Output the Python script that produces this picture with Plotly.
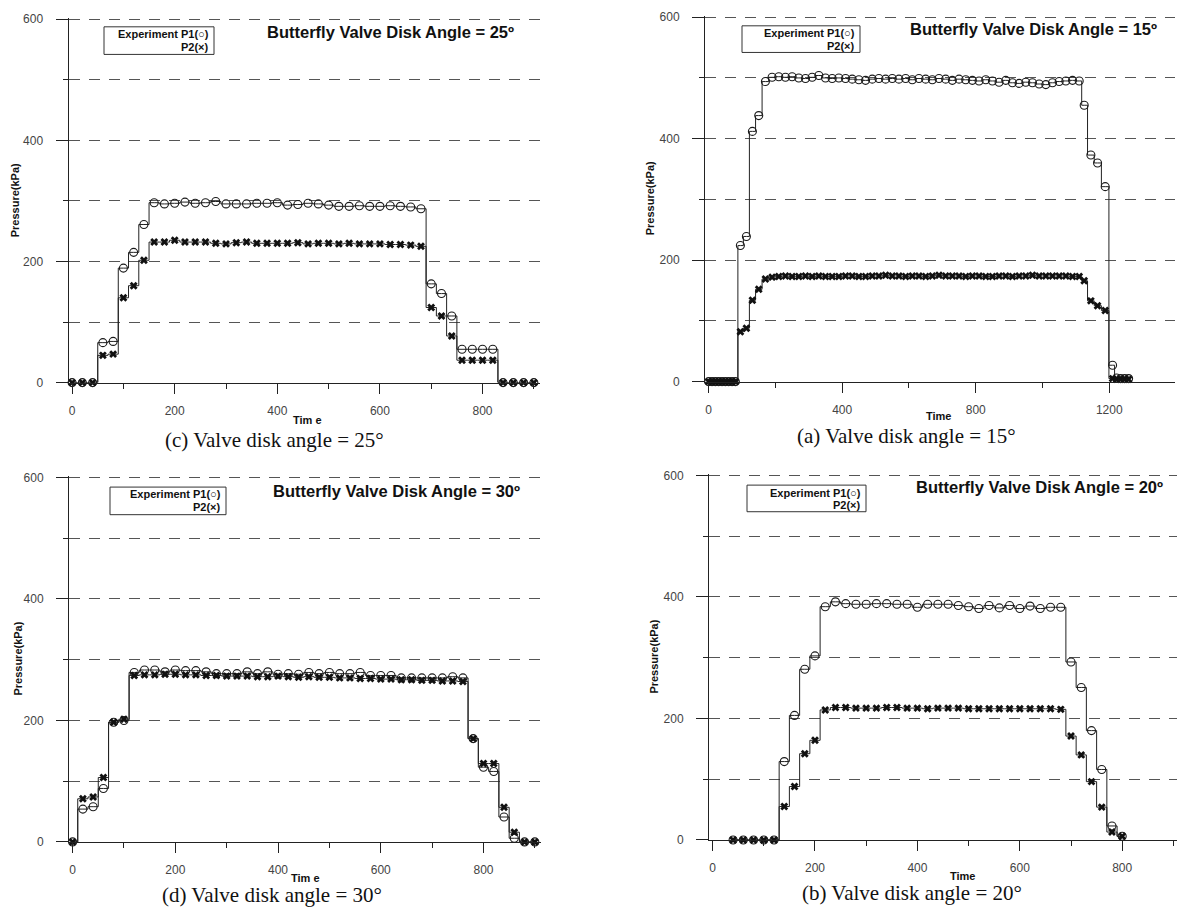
import plotly.graph_objects as go

# The page body has an 8px default margin; the figure is sized so that page = 1185x919.
OFF = 8
W, H = 1185 - 2 * OFF, 919 - 2 * OFF

# ---------------- data ----------------
# (c) Valve disk angle = 25 deg
t_c = [0, 20, 40, 60, 80, 100, 120, 140, 160, 180, 200, 220, 240, 260, 280, 300, 320, 340, 360, 380,
       400, 420, 440, 460, 480, 500, 520, 540, 560, 580, 600, 620, 640, 660, 680, 700, 720, 740, 760,
       780, 800, 820, 840, 860, 880, 900]
p1_c = [0, 0, 0, 66, 68, 189, 215, 261, 297,
        295, 296, 298, 296, 297, 299, 295, 295, 295, 296, 296, 297, 293, 294, 296, 295, 293, 291,
        291, 292, 291, 291, 292, 291, 290, 287,
        163, 147, 110, 55, 55, 55, 55, 0, 0, 0, 0]
p2_c = [0, 0, 0, 45, 47, 140, 160, 202, 232,
        232, 235, 232, 232, 232, 230, 229, 231, 232, 230, 230, 230, 230, 231, 229, 230, 230, 229,
        230, 229, 229, 229, 228, 228, 227, 225,
        124, 110, 77, 37, 37, 37, 37, 0, 0, 0, 0]

# (a) Valve disk angle = 15 deg
t_a = [0, 10, 20, 30, 40, 50, 60, 70, 80, 95, 113, 131, 150, 170,
       190, 210, 230, 250, 270, 290, 310, 330, 350, 370, 390, 410, 430, 450, 470, 490, 510, 530,
       550, 570, 590, 610, 630, 650, 670, 690, 710, 730, 750, 770, 790, 810, 830, 850, 870, 890,
       910, 930, 950, 970, 990, 1010, 1030, 1050, 1070, 1090, 1110,
       1125, 1145, 1165, 1188, 1210, 1222, 1234, 1246, 1258]
p1_a = [0, 0, 0, 0, 0, 0, 0, 0, 0, 224, 239, 412, 438, 494,
        501, 502, 501, 502, 500, 499, 501, 504, 500, 499, 500, 499, 498, 497, 496, 498, 499, 498,
        499, 498, 499, 497, 499, 498, 497, 499, 498, 496, 498, 497, 496, 495, 497, 495, 493, 496,
        492, 491, 493, 492, 490, 489, 492, 494, 495, 496, 495,
        455, 373, 360, 321, 27, 6, 5, 5, 5]
p2_a = [0, 0, 0, 0, 0, 0, 0, 0, 0, 82, 88, 134, 152, 169,
        172, 173, 174, 173, 173, 174, 173, 174, 173, 173, 173, 174, 174, 173, 173, 174, 174, 175,
        174, 174, 173, 174, 174, 173, 174, 175, 174, 174, 174, 173, 174, 174, 173, 173, 174, 174,
        173, 174, 174, 175, 174, 174, 174, 174, 174, 173, 173,
        166, 133, 125, 117, 5, 4, 4, 4, 4]

# (d) Valve disk angle = 30 deg
t_d = [0, 20, 40, 60, 80, 100, 120, 140, 160, 180, 200, 220, 240, 260, 280, 300, 320, 340, 360, 380,
       400, 420, 440, 460, 480, 500, 520, 540, 560, 580, 600, 620, 640, 660, 680, 700, 720, 740, 760,
       780, 800, 820, 840, 860, 880, 900]
p1_d = [0, 54, 58, 88, 197, 200,
        279, 283, 283, 280, 283, 282, 282, 280, 277, 277, 277, 280, 277, 280, 276, 277, 276, 279,
        277, 279, 277, 277, 279, 274, 274, 274, 270, 270, 270, 270, 270, 272, 270,
        170, 123, 116, 41, 6, 0, 0]
p2_d = [0, 71, 74, 106, 197, 202,
        274, 275, 275, 276, 276, 275, 275, 274, 274, 273, 273, 273, 272, 272, 273, 272, 271, 272,
        271, 271, 270, 270, 269, 269, 268, 268, 267, 267, 266, 266, 265, 265, 264,
        170, 129, 129, 57, 16, 0, 0]

# (b) Valve disk angle = 20 deg
t_b = [40, 60, 80, 100, 120, 140, 160, 180, 200, 220, 240, 260, 280, 300, 320, 340, 360, 380,
       400, 420, 440, 460, 480, 500, 520, 540, 560, 580, 600, 620, 640, 660, 680, 700, 720, 740, 760,
       780, 800]
p1_b = [0, 0, 0, 0, 0, 129, 205, 281, 303, 384,
        392, 389, 388, 388, 389, 389, 388, 388, 383, 388, 388, 388, 386, 384, 381, 386, 382, 386,
        381, 385, 381, 383, 383,
        293, 251, 180, 116, 23, 6]
p2_b = [0, 0, 0, 0, 0, 55, 88, 142, 164, 214,
        218, 218, 217, 217, 217, 218, 218, 217, 217, 216, 217, 217, 217, 216, 216, 216, 216, 216,
        216, 216, 216, 216, 215,
        171, 140, 96, 54, 13, 6]

y_ticks = [0, 200, 400, 600]
angles = ["25", "15", "30", "20"]
letters = ["c", "a", "d", "b"]

# ---------------- layout helpers (page pixels -> paper fractions) ----------------
def X(px):
    return (px - OFF) / W

def Y(py):
    return 1 - (py - OFF) / H

panels = [
    dict(t=t_c, p1=p1_c, p2=p2_c, xdom=(68.5, 540), ydom=(382, 12), xr=[-7, 912], dt=200, mdt=100,
         title=(390, 26), box=(104, 21, 214, 49), ytitle=(15, 197), xtitle=(307, 420), xt="Tim e",
         cap=(274, 440)),
    dict(t=t_a, p1=p1_a, p2=p2_a, xdom=(705, 1175), ydom=(381, 10), xr=[-11, 1397], dt=400, mdt=200,
         title=(1033, 23), box=(742, 20, 860, 47), ytitle=(650, 195), xtitle=(938, 416), xt="Time",
         cap=(906, 436)),
    dict(t=t_d, p1=p1_d, p2=p2_d, xdom=(69, 541), ydom=(848, 477), xr=[-7, 912], dt=200, mdt=100,
         title=(396, 492), box=(110, 488, 226, 516), ytitle=(18, 662), xtitle=(305, 885), xt="Tim e",
         cap=(272, 902)),
    dict(t=t_b, p1=p1_b, p2=p2_b, xdom=(709, 1177), ydom=(846, 475), xr=[-7, 907], dt=200, mdt=100,
         title=(1039, 488), box=(747, 486, 866, 513), ytitle=(654, 660), xtitle=(962, 883), xt="Time",
         cap=(912, 900)),
]

GRID = "#555555"
AX = "#222222"
SANS = "Arial, Liberation Sans, sans-serif"
SERIF = "Liberation Serif, Times New Roman, serif"
TICKFONT = dict(family=SANS, size=12, color="#444444")

fig = go.Figure()
layout = dict(width=W, height=H, margin=dict(l=0, r=0, t=0, b=0), autosize=False,
              paper_bgcolor="white", plot_bgcolor="white", showlegend=False)
annotations = []
shapes = []

for i, p in enumerate(panels):
    n = "" if i == 0 else str(i + 1)
    xa, ya = "x" + n, "y" + n
    fig.add_trace(go.Scatter(
        x=p["t"], y=p["p1"], xaxis=xa, yaxis=ya, mode="lines+markers",
        line=dict(color="#222222", width=1, shape="hvh"),
        marker=dict(symbol="circle-open", size=8, color="#1a1a1a", line=dict(width=1.1)),
        cliponaxis=False))
    fig.add_trace(go.Scatter(
        x=p["t"], y=p["p2"], xaxis=xa, yaxis=ya, mode="lines+markers",
        line=dict(color="#222222", width=1, shape="hvh"),
        marker=dict(symbol="x", size=7, color="#111111"),
        cliponaxis=False))

    layout["xaxis" + n] = dict(
        domain=[X(p["xdom"][0]), X(p["xdom"][1])], range=p["xr"], anchor=ya,
        showline=True, linecolor=AX, linewidth=1, mirror=False,
        ticks="outside", ticklen=10, tickcolor=AX, tick0=0, dtick=p["dt"],
        minor=dict(dtick=p["mdt"], tick0=0, ticks="outside", ticklen=5, tickcolor=AX),
        showgrid=False, zeroline=False, tickfont=TICKFONT, ticklabelstandoff=7)
    layout["yaxis" + n] = dict(
        domain=[Y(p["ydom"][0]), Y(p["ydom"][1])], range=[0, 602], anchor=xa,
        showline=True, linecolor=AX, linewidth=1,
        ticks="outside", ticklen=12, tickcolor=AX, tickvals=y_ticks,
        minor=dict(dtick=100, tick0=0, ticks="outside", ticklen=5, tickcolor=AX,
                   showgrid=True, gridcolor=GRID, griddash="11px,9px", gridwidth=1),
        showgrid=True, gridcolor=GRID, griddash="11px,9px", gridwidth=1,
        zeroline=False, tickfont=TICKFONT, ticklabelstandoff=10)

    # panel title inside plot
    annotations.append(dict(
        x=X(p["title"][0]), y=Y(p["title"][1]), xref="paper", yref="paper",
        text="<b>Butterfly Valve Disk Angle = " + angles[i] + "º</b>",
        showarrow=False, font=dict(family=SANS, size=16.5, color="#111111"),
        xanchor="center", yanchor="middle"))
    # legend box (drawn as a shape + two right-aligned text lines)
    bx0, by0, bx1, by1 = p["box"]
    shapes.append(dict(type="rect", xref="paper", yref="paper",
                       x0=X(bx0), x1=X(bx1), y0=Y(by1), y1=Y(by0),
                       line=dict(color="#333333", width=1), fillcolor="white"))
    annotations.append(dict(
        x=X(bx1 - 3), y=Y(by0 + 7.5), xref="paper", yref="paper",
        text="<b>Experiment P1(○)</b>", showarrow=False,
        font=dict(family=SANS, size=11, color="#111111"),
        xanchor="right", yanchor="middle"))
    annotations.append(dict(
        x=X(bx1 - 3), y=Y(by0 + 20), xref="paper", yref="paper",
        text="<b>P2(×)</b>", showarrow=False,
        font=dict(family=SANS, size=11, color="#111111"),
        xanchor="right", yanchor="middle"))
    # y-axis title
    annotations.append(dict(
        x=X(p["ytitle"][0]), y=Y(p["ytitle"][1]), xref="paper", yref="paper",
        text="<b>Pressure(kPa)</b>", textangle=-90, showarrow=False,
        font=dict(family=SANS, size=11, color="#111111"),
        xanchor="center", yanchor="middle"))
    # x-axis title
    annotations.append(dict(
        x=X(p["xtitle"][0]), y=Y(p["xtitle"][1]), xref="paper", yref="paper",
        text="<b>" + p["xt"] + "</b>", showarrow=False,
        font=dict(family=SANS, size=11, color="#111111"),
        xanchor="center", yanchor="middle"))
    # caption
    annotations.append(dict(
        x=X(p["cap"][0]), y=Y(p["cap"][1]), xref="paper", yref="paper",
        text="(" + letters[i] + ") Valve disk angle = " + angles[i] + "°", showarrow=False,
        font=dict(family=SERIF, size=21, color="#111111"),
        xanchor="center", yanchor="middle"))

layout["annotations"] = annotations
layout["shapes"] = shapes
fig.update_layout(**layout)
fig.write_html("out.html")
